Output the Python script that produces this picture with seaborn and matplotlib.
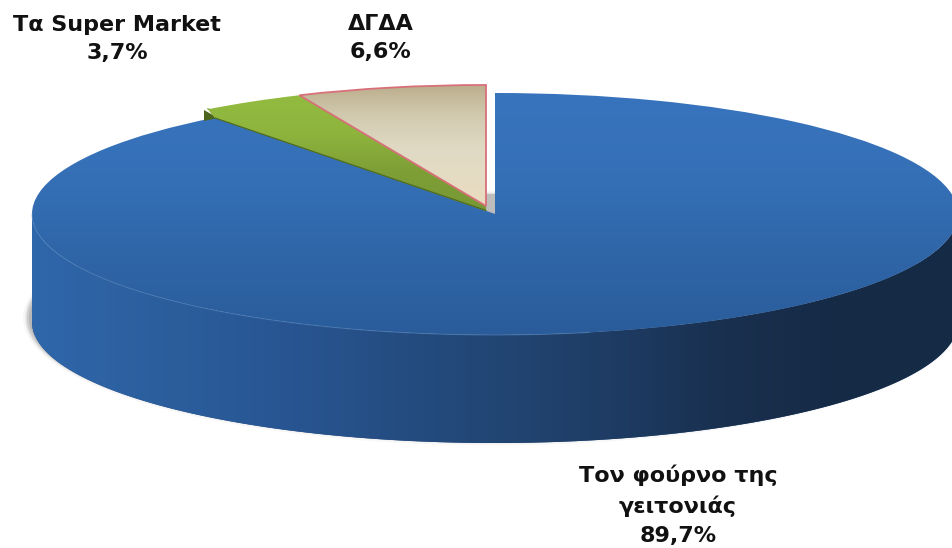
import numpy as np
import matplotlib
matplotlib.use('Agg')
import matplotlib.pyplot as plt
import seaborn as sns

# Pie data, drawn from 12 o'clock going counter clockwise
labels = ['ΔΓΔΑ\n6,6%', 'Τα Super Market\n3,7%', 'Τον φούρνο της\nγειτονιάς\n89,7%']
values = [6.6, 3.7, 89.7]

sns.set_theme(style='white')
plt.rcParams['font.family'] = ['DejaVu Sans']

W, H = 953, 548
cx, cy, a, b = 495, 214, 463, 121  # ellipse of the pie top, in pixels
depth = 108 / b


def ux(px):
    return (px - cx) / a


def uy(py):
    return (cy - py) / b


fig = plt.figure(figsize=(W / 100, H / 100), dpi=100)
ax = fig.add_axes([0, 0, 1, 1])

wedges, _ = ax.pie(values, startangle=90, counterclock=True, radius=1)
ax.set_aspect('auto')


def gradient(patch, colors, box, vertical=True, z=3):
    cmap = sns.blend_palette(colors, as_cmap=True)
    g = np.linspace(0, 1, 256)
    g = g[:, None] if vertical else g[None, :]
    im = ax.imshow(g, cmap=cmap, extent=box, aspect='auto', zorder=z, interpolation='bilinear')
    im.set_clip_path(patch)
    return im


# soft shadow under the pie
t = np.linspace(0, 2 * np.pi, 300)
for grow, alpha in zip([7, 5, 4, 3, 1], [0.05, 0.08, 0.1, 0.14, 0.2]):
    ax.fill(ux(cx - 2 + (a + grow) * np.cos(t)), uy(cy + 108 - 4 + (b + grow * 0.9) * np.sin(t)),
            color='#666666', alpha=alpha, lw=0, zorder=1)

# side wall of the big slice
t = np.linspace(np.pi, 2 * np.pi, 300)
xs = np.concatenate([np.cos(t), np.cos(t[::-1])])
ys = np.concatenate([np.sin(t), np.sin(t[::-1]) - depth])
wall = ax.fill(xs, ys, color='#23497A', lw=0, zorder=2)[0]
gradient(wall, ['#2F67AB', '#2C5F9E', '#295795', '#254E84', '#224674', '#1E3C64', '#19304F', '#152A45', '#152A45'],
         (ux(32), ux(958), uy(445), uy(200)), vertical=False, z=2)

# grey sliver seen through the gap next to the 12 o'clock cut
ax.fill(ux(np.array([487, 495, 495, 487])), uy(np.array([194, 194, 213, 210])), color='#BDBDBD', lw=0, zorder=2)

# big slice
big = wedges[2]
big.set_zorder(4)
big.set_facecolor('none')
big.set_edgecolor('none')
gradient(big, ['#3874BE', '#3570B7', '#2F66A8', '#2A5C9A'], (-1.02, 1.02, uy(337), uy(90)))
ax.plot(np.cos(t[:170]), np.sin(t[:170]), color='#5F8FC8', lw=0.7, alpha=0.5, zorder=5)

# the two pulled out slices share one apex
apex = (ux(486), uy(206))

green_colors = ['#93BB40', '#8EB43D', '#7E9E36', '#789835']
green_box = (-1.1, 1, uy(211), uy(94))

# small dark end of the green slice
ax.fill(ux(np.array([204, 204, 218])), uy(np.array([110, 121, 118])), color='#4C6620', lw=0, zorder=5)

# green strip down to the blue slice, with its thin dark lower edge
strip = ax.fill(ux(np.array([207, 486, 486, 215])), uy(np.array([108, 204, 211, 118])), color='#7E9E36', lw=0, zorder=5)[0]
gradient(strip, green_colors, green_box, z=5)
ax.plot(ux(np.array([215, 486])), uy(np.array([118, 210.5])), color='#4F6B22', lw=0.9, zorder=6)

green = wedges[1]
green.set_center(apex)
green.set_zorder(7)
green.set_facecolor('none')
green.set_edgecolor('none')
gradient(green, green_colors, green_box, z=6)

beige = wedges[0]
beige.set_center(apex)
beige.set_zorder(9)
beige.set_facecolor('none')
beige.set_edgecolor('#D8707A')
beige.set_linewidth(1.3)
gradient(beige, ['#BBAE8C', '#D2CAAF', '#DFD9C3', '#E5DCC4', '#EADBBE'], (-1.1, 1, uy(207), uy(85)), z=8)

# labels
ax.text(ux(117), uy(39), labels[1], ha='center', va='center', fontsize=16, fontweight='bold',
        color='#111111', linespacing=1.45, zorder=10)
ax.text(ux(381), uy(38), labels[0], ha='center', va='center', fontsize=16, fontweight='bold',
        color='#111111', linespacing=1.45, zorder=10)
ax.text(ux(678), uy(505), labels[2], ha='center', va='center', fontsize=16, fontweight='bold',
        color='#111111', linespacing=1.55, zorder=10)

ax.set_xlim(ux(0), ux(W))
ax.set_ylim(uy(H), uy(0))
ax.axis('off')
fig.savefig('out.png', dpi=100, facecolor='white')
